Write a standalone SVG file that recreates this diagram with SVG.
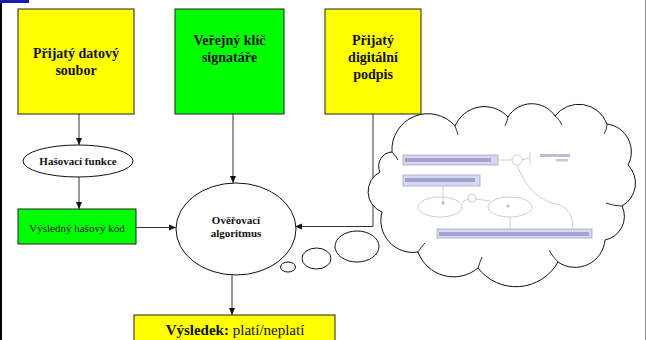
<svg xmlns="http://www.w3.org/2000/svg" width="646" height="340" viewBox="0 0 646 340">
<defs>
<style>
.box{stroke:#222;stroke-width:1}
.yel{fill:#ffff00}
.grn{fill:#00ff00}
.t{font-family:'Liberation Serif','DejaVu Serif','Times New Roman',serif;fill:#111;text-anchor:middle}
.b{font-weight:bold}
.ln{stroke:#333;stroke-width:1;fill:none}
.ol{stroke:#111;stroke-width:1;fill:#fff}
.img{fill:#d8d8f0;stroke:#a8a8c0;stroke-width:0.8}
.blur{fill:#8a8ac8;opacity:0.7}
.thin{stroke:#c0c0cc;stroke-width:0.8;fill:none}
</style>
<marker id="ah" markerWidth="8" markerHeight="8" refX="7" refY="4" orient="auto" markerUnits="userSpaceOnUse">
<path d="M0,1 L7,4 L0,7 Z" fill="#111"/>
</marker>
</defs>
<rect width="646" height="340" fill="#fff"/>
<rect x="0" y="0" width="29" height="3" fill="#1a1ab0"/>
<line x1="1" y1="3" x2="1" y2="340" stroke="#000" stroke-width="2"/>
<line x1="645.5" y1="0" x2="645.5" y2="340" stroke="#999" stroke-width="1"/>

<g id="connectors">
<line class="ln" x1="79" y1="114" x2="79" y2="145" marker-end="url(#ah)"/>
<line class="ln" x1="79" y1="177" x2="79" y2="209" marker-end="url(#ah)"/>
<line class="ln" x1="136" y1="227.5" x2="176" y2="227.5" marker-end="url(#ah)"/>
<line class="ln" x1="233" y1="114" x2="233" y2="183" marker-end="url(#ah)"/>
<polyline class="ln" points="373,114 373,226.5 295,226.5" marker-end="url(#ah)"/>
<line class="ln" x1="232" y1="275" x2="232" y2="315" marker-end="url(#ah)"/>
</g>

<g font-family="Liberation Serif, DejaVu Serif, serif">
<g id="box-data">
<rect class="box yel" x="18" y="9" width="116" height="105"/>
<text class="t b" font-size="14" x="76" y="58">Přijatý datový</text>
<text class="t b" font-size="14" x="76" y="75">soubor</text>
</g>
<g id="box-key">
<rect class="box grn" x="175" y="9" width="109" height="105"/>
<text class="t b" font-size="14" x="229.5" y="45">Veřejný klíč</text>
<text class="t b" font-size="14" x="229.5" y="62">signatáře</text>
</g>
<g id="box-sig">
<rect class="box yel" x="325" y="9" width="96" height="105"/>
<text class="t b" font-size="14" x="373" y="45">Přijatý</text>
<text class="t b" font-size="14" x="373" y="62">digitální</text>
<text class="t b" font-size="14" x="373" y="79">podpis</text>
</g>
<g id="hash-fn">
<ellipse class="ol" cx="78" cy="161" rx="55" ry="16"/>
<text class="t b" font-size="11" x="78" y="165">Hašovací funkce</text>
</g>
<g id="hash-code">
<rect class="box grn" x="18" y="209" width="118" height="35"/>
<text class="t" font-size="11" x="77" y="231.5">Výsledný hašový kód</text>
</g>
<g id="verify">
<ellipse class="ol" cx="236" cy="229" rx="60" ry="46"/>
<text class="t b" font-size="11" x="236" y="224">Ověřovací</text>
<text class="t b" font-size="11" x="236" y="237">algoritmus</text>
</g>
<g id="result">
<rect class="box yel" x="134" y="315" width="201" height="30"/>
<text class="t" font-size="15" x="235" y="335"><tspan class="b">Výsledek:</tspan> platí/neplatí</text>
</g>
</g>

<g id="thought">
<ellipse class="ol" cx="288" cy="267" rx="7.5" ry="5"/>
<ellipse class="ol" cx="316.5" cy="258.5" rx="14.5" ry="10.5"/>
<ellipse class="ol" cx="357" cy="246.5" rx="22" ry="15.5"/>
<path class="ol" d="M392,152 A36,36 0 0 1 455,126 A32,32 0 0 1 508,117 A28,28 0 0 1 555,116 A30,30 0 0 1 607,124 A28,28 0 0 1 628,165 A26,26 0 0 1 622,206 A24,24 0 0 1 605,240 A30,30 0 0 1 558,262 A48,48 0 0 1 478,268 A38,38 0 0 1 418,252 A32,32 0 0 1 382,212 A22,22 0 0 1 380,172 A14,14 0 0 1 392,152 Z"/>
<path class="ln" stroke="#111" d="M392,152 Q396,156 398,160 M455,126 Q457,131 458,135 M508,117 Q507,122 505,126 M555,116 Q560,120 562,125 M607,124 Q607,130 604,134 M622,206 Q614,206 606,203 M558,262 Q552,256 549,250 M478,268 Q480,262 482,257 M418,252 Q421,247 425,243"/>
<rect class="img" x="403" y="155" width="95" height="10"/>
<rect class="blur" x="405" y="158" width="86" height="4"/>
<rect class="img" x="403" y="175" width="77" height="11"/>
<rect class="blur" x="405" y="178" width="70" height="4"/>
<rect class="img" x="437" y="229" width="155" height="9"/>
<rect class="blur" x="439" y="232" width="150" height="4"/>
<rect x="540" y="154" width="30" height="3" fill="#9090c8" opacity="0.6"/>
<rect x="556" y="159" width="12" height="2.5" fill="#9090c8" opacity="0.5"/>
<line class="thin" x1="498" y1="160" x2="512" y2="160"/>
<circle class="thin" cx="517" cy="160" r="5"/>
<line class="thin" x1="522" y1="160" x2="529" y2="158"/>
<line class="thin" x1="530" y1="152" x2="530" y2="165"/>
<path class="thin" d="M517,165 Q530,200 560,205 Q573,210 573,229"/>
<line class="thin" x1="443" y1="186" x2="443" y2="202"/>
<ellipse class="thin" cx="440" cy="207" rx="22" ry="10"/>
<ellipse class="thin" cx="510" cy="207" rx="22" ry="10"/>
<line class="thin" x1="462" y1="202" x2="468" y2="199"/>
<circle class="thin" cx="472" cy="198" r="4"/>
<line class="thin" x1="476" y1="199" x2="490" y2="201"/>
<line class="thin" x1="510" y1="217" x2="510" y2="229"/>
<circle cx="443" cy="203" r="1.5" fill="#7070b8" opacity="0.5"/>
<circle cx="508" cy="206" r="1.5" fill="#7070b8" opacity="0.5"/>
</g>
</svg>
